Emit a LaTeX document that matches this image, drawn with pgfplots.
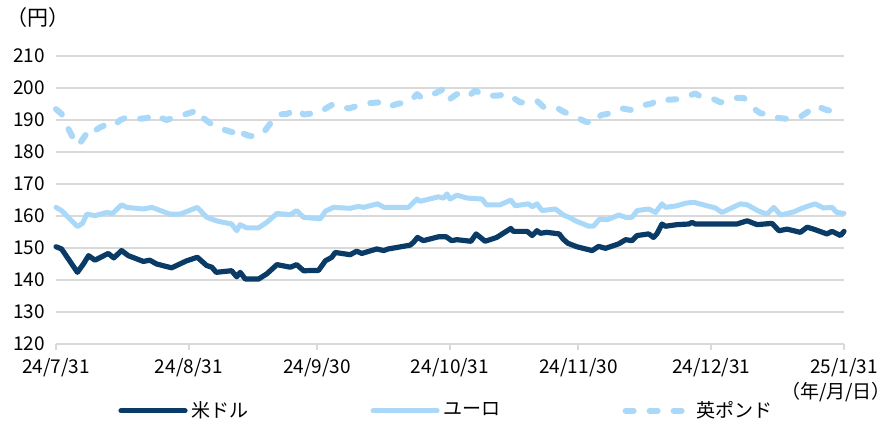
\documentclass[border=0pt]{standalone}
\usepackage{pgfplots}
\pgfplotsset{compat=1.18}
\usepackage{fontspec}
\setmainfont{Noto Sans CJK JP}
\definecolor{usd}{RGB}{10,58,102}
\definecolor{eur}{RGB}{170,216,248}
\definecolor{gridc}{RGB}{217,217,217}
\begin{document}
\begin{tikzpicture}
\useasboundingbox (-28pt,-41pt) rectangle (416pt,172pt);
\begin{axis}[
  at={(0,0)}, anchor=south west,
  scale only axis, width=394pt, height=144pt,
  xmin=0, xmax=184, ymin=120, ymax=210,
  ytick={120,130,...,210},
  xtick={0,31,61,92,122,153,184},
  xticklabels={24/7/31,24/8/31,24/9/30,24/10/31,24/11/30,24/12/31,25/1/31},
  ymajorgrids, major grid style={gridc, line width=1pt},
  axis x line*=bottom, axis y line*=left,
  y axis line style={draw=none},
  x axis line style={gridc, line width=1pt, -},
  xtick style={gridc, line width=1pt},
  xtick align=outside, major tick length=3pt,
  ytick style={draw=none},
  tick label style={font=\fontsize{9.5}{10}\selectfont, black},
  yticklabel style={xshift=-2pt},
  xticklabel style={yshift=-0.5pt},
  /pgf/number format/assume math mode=true,
  clip=false,
  legend columns=3,
  legend style={at={(axis description cs:0.0787,-0.232)}, anchor=west, draw=none, fill=none,
    font=\fontsize{9.5}{11}\selectfont, inner sep=0pt,
    /tikz/every odd column/.append style={column sep=0pt},
    /tikz/every even column/.append style={column sep=59pt}},
  legend image code/.code={\draw[#1] (0pt,0pt) -- (32pt,0pt);},
]
\addplot[usd, line width=2.6pt, line join=round, line cap=round] coordinates {
(0,150.4)(1.3,149.7)(5,142.4)(6.4,145)(7.6,147.6)(9.1,146.2)(12.2,148.3)(13.5,146.9)(15.3,149.2)(16.9,147.6)
(20.4,145.8)(21.9,146.2)(23.5,145)(27,143.8)(30.5,146)(33,147.1)(35.2,144.5)(36.4,144)(37.4,142.4)(41,142.9)
(42.2,141)(43,142.4)(44.2,140.3)(47.3,140.3)(49.2,141.9)(51.6,144.8)(54.7,144)(56.2,144.8)(57.8,142.9)(61.3,143)
(62.9,146)(64.4,147.1)(65.2,148.6)(68.7,147.9)(70.2,149)(71.4,148.3)(74.9,149.7)(76.5,149.2)(77.6,149.7)(82.7,150.9)
(83.5,151.8)(84.4,153.3)(85.8,152.3)(89.3,153.5)(91.1,153.5)(92.4,152.3)(93.6,152.6)(96.9,152.1)(98.1,154.4)(100.2,152.1)
(102.9,153.3)(106.2,156.1)(106.8,155.2)(110,155.2)(111.2,153.9)(112.3,155.4)(113.1,154.6)(114.6,154.9)(117.5,154.4)(118.4,152.8)
(119.5,151.5)(121.6,150.4)(125.2,149.2)(126.7,150.5)(128.3,149.9)(131.4,151.3)(133,152.6)(134.5,152.3)(135.7,153.9)(138.4,154.4)
(139.5,153.3)(140.3,154.4)(141.5,157.5)(142.3,156.8)(145,157.3)(147.8,157.5)(148.5,158)(149.3,157.5)(159,157.5)(161.4,158.5)
(163.7,157.3)(167.2,157.7)(168.8,155.4)(170.7,155.9)(173.8,154.9)(175.4,156.5)(176.9,155.9)(180,154.4)(181.2,155.2)(183.2,153.9)(184,155.2)
};
\addlegendentry{米ドル}
\addplot[eur, line width=2.5pt, line join=round, line cap=round] coordinates {
(0,162.7)(1.3,161.7)(5,156.7)(6.2,157.7)(7.2,160.6)(9.1,160.1)(11.8,161.1)(13.2,160.8)(15.3,163.5)(16.5,162.7)
(20.4,162.2)(22.4,162.7)(26.6,160.6)(29,160.6)(33,162.7)(35.2,159.6)(36.8,158.8)(38,158.3)(41,157.5)(42.2,155.4)
(43,157.3)(44.5,156.3)(47.3,156.3)(49.2,158)(51.6,160.8)(54.7,160.4)(56.2,161.7)(57.8,159.6)(61.7,159.1)(62.9,161.5)
(64.8,162.7)(68.7,162.4)(70.6,163)(71.8,162.7)(75.1,163.8)(76.6,162.7)(82.3,162.7)(84.3,165.3)(85,164.6)(89.3,166)
(90.5,165.6)(91.3,166.9)(92,165.3)(93.6,166.5)(96,165.6)(99.5,165.3)(100.5,163.5)(103.7,163.5)(106.2,165)(107.2,163.2)
(110.3,163.8)(111.2,162.9)(112.3,163.8)(113.5,161.7)(116.6,162.2)(118.5,160.3)(119.8,159.6)(121.6,158.3)(124.4,156.8)(125.5,156.8)
(126.9,159)(128.7,158.8)(131.4,160.3)(133,159.6)(134.5,159.6)(135.7,161.7)(138.4,162.2)(140,161.1)(141.5,163.8)(142.3,162.7)
(145,163.2)(147,164)(148.9,164.3)(152,163.2)(154,162.5)(155.5,161.1)(159.8,163.8)(161.4,163.5)(164.1,161.5)(166,160.6)
(167.6,162.7)(169.2,160.3)(172.3,161.3)(173.8,162.2)(175.4,163)(177.3,163.8)(179.2,162.5)(181.2,162.7)(182.3,161.1)(184,160.8)
};
\addlegendentry{ユーロ}
\addplot[eur, line width=3pt, line join=round, line cap=round, dash pattern=on 4pt off 8pt] coordinates {
(0,193.4)(1.3,191.9)(2.9,187.2)(4.1,184.1)(5.2,182)(6.8,185.1)(7.9,187.5)(9.1,186.7)(10.3,187.7)(12.6,189.1)
(13.8,188.5)(15,190)(16.5,190.8)(18.9,190.3)(21.2,190.6)(22.8,191.7)(25.8,190)(28.2,191)(30.5,191.9)(33.3,193.1)
(34.4,190.6)(36.8,188.2)(38.7,187.2)(41.4,186.1)(42.6,184.8)(43,186.1)(45,185.1)(46.9,184.8)(48.8,186.7)(51.6,191.7)
(53.9,191.9)(56.6,193.4)(57.8,191.7)(61.7,192.4)(63.2,193.8)(64.8,195)(68.3,193.6)(70.6,194.5)(72.6,195.2)(75.3,195.5)
(77.4,194)(79.6,195)(82.7,195.8)(84.3,198.1)(85.4,196.9)(88.2,198.1)(90.5,199.7)(91.7,196.3)(93.6,198.1)(96,197.1)
(97.9,199.2)(100.2,197.6)(102.9,197.6)(105.9,198.1)(106.8,196.9)(108.4,195.5)(110.7,195.5)(112.3,196)(113.9,194)(117,193.8)
(118.5,192.6)(121.3,191)(123.6,189.5)(125.5,189)(126.3,190.8)(127.5,191.6)(129.4,192.1)(132.2,193.6)(134.5,193.1)(136.8,194.5)
(139.2,195.2)(140.8,196.5)(142.7,196.3)(145,196.5)(147.4,197.4)(149.3,198.3)(150.8,197.1)(153.6,196.5)(155.2,195.5)(158.3,196.9)
(160.6,196.9)(162.5,194)(164.5,192.1)(166.8,191.7)(168.8,190.6)(171.5,190.3)(173.8,191)(175.4,192.4)(177.3,194.5)(180,193.1)
(182,192.7)(184,192.4)
};
\addlegendentry{英ポンド}
\end{axis}
\node[font=\fontsize{10.5}{11}\selectfont] at (-9pt,163pt) {（円）};
\node[font=\fontsize{9.5}{10}\selectfont, anchor=east] at (421pt,-24pt) {（年/月/日）};
\end{tikzpicture}
\end{document}
